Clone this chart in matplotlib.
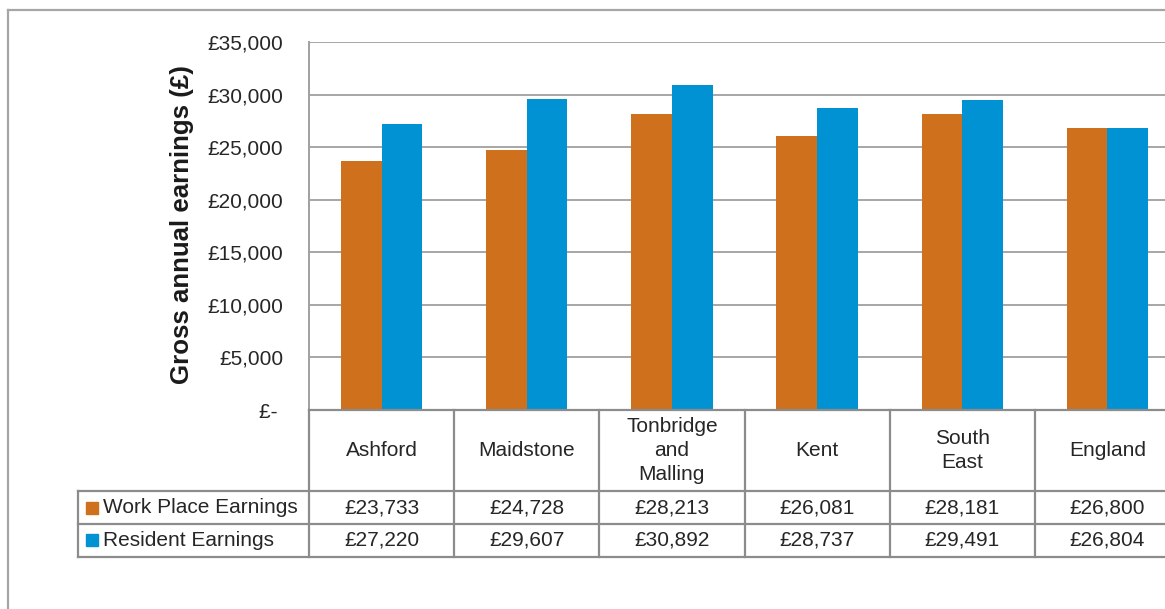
import numpy as np
from matplotlib import pyplot as plt
from matplotlib.lines import Line2D

plt.rcParams['font.family'] = ['Liberation Sans', 'DejaVu Sans']

areas = ['Ashford', 'Maidstone', 'Tonbridge\nand\nMalling', 'Kent', 'South\nEast', 'England']
work_place = [23733, 24728, 28213, 26081, 28181, 26800]
resident = [27220, 29607, 30892, 28737, 29491, 26804]
series_names = ['Work Place Earnings', 'Resident Earnings']
colours = ['#CE701C', '#0092D3']
yticks = list(range(0, 35001, 5000))

W, H = 1165, 609
fig = plt.figure(figsize=(W / 100, H / 100), dpi=100)
ax = fig.add_axes([309 / W, 199 / H, 871 / W, 367.7 / H])

x = np.arange(len(areas))
bw = 0.28
ax.bar(x - bw / 2, work_place, bw, color=colours[0], zorder=3)
ax.bar(x + bw / 2, resident, bw, color=colours[1], zorder=3)

ax.set_xlim(-0.5, len(areas) - 0.5)
ax.set_ylim(0, 35000)
ax.set_xticks([])
ax.set_yticks(yticks)
ax.set_yticklabels(['£- ' if v == 0 else '£{:,}'.format(v) for v in yticks])
ax.tick_params(axis='y', length=0, pad=18.5, labelsize=15, labelcolor='#262626')
ax.yaxis.grid(True, color='#a6a6a6', linewidth=1.4, zorder=0)
for s in ['top', 'right', 'bottom']:
    ax.spines[s].set_visible(False)
ax.spines['left'].set_color('#a0a0a0')
ax.spines['left'].set_linewidth(1.4)

ax.set_ylabel('Gross annual earnings (£)', fontsize=18.6, fontweight='bold',
              color='#1a1a1a', va='center')
ax.yaxis.set_label_coords(-0.146, 0.503)

# data table under the bars
tr = ax.get_xaxis_transform()
r1, r2, r3 = -0.2203, -0.3108, -0.3990
xl = -2.089
tcol = '#8c8c8c'
lkw = dict(transform=tr, clip_on=False, color=tcol, linewidth=1.6, zorder=5)
ax.plot([-0.5, 5.5], [0, 0], **lkw)
for yy in [r1, r2, r3]:
    ax.plot([xl, 5.5], [yy, yy], **lkw)
for xx in np.arange(-0.5, 5.0, 1.0):
    ax.plot([xx, xx], [0, r3], **lkw)
ax.plot([xl, xl], [r1, r3], **lkw)

tkw = dict(transform=tr, ha='center', va='center', fontsize=15, color='#262626', clip_on=False)
for i, name in enumerate(areas):
    ax.text(i, r1 / 2, name, linespacing=1.32, **tkw)
    ax.text(i, (r1 + r2) / 2, '£{:,}'.format(work_place[i]), **tkw)
    ax.text(i, (r2 + r3) / 2, '£{:,}'.format(resident[i]), **tkw)

for j, (lab, c) in enumerate(zip(series_names, colours)):
    yc = (r1 + r2) / 2 if j == 0 else (r2 + r3) / 2
    ax.plot([-1.993], [yc], marker='s', markersize=8, color=c, transform=tr, clip_on=False)
    ax.text(-1.921, yc, lab, transform=tr, ha='left', va='center', fontsize=15,
            color='#262626', clip_on=False)

# outer chart border (cut off at right and bottom)
fig.add_artist(Line2D([8 / W, 1], [1 - 10 / H, 1 - 10 / H], color='#a6a6a6', linewidth=1.6))
fig.add_artist(Line2D([8 / W, 8 / W], [0, 1 - 10 / H], color='#a6a6a6', linewidth=1.6))

fig.savefig('out.png', dpi=100, facecolor='white')
